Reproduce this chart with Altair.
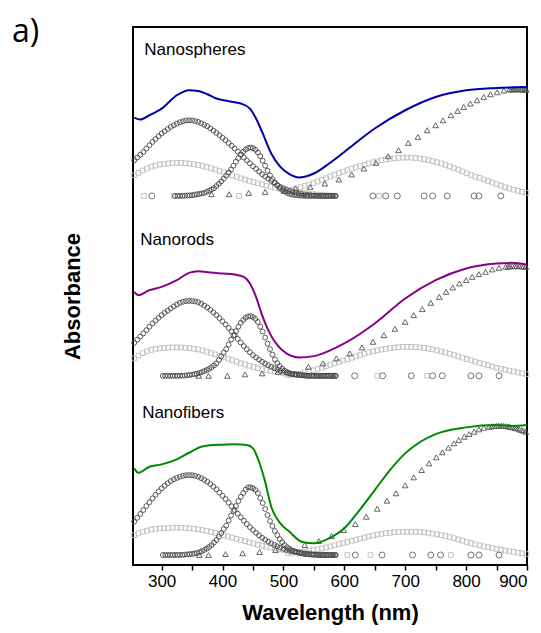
import altair as alt
import pandas as pd

# ---------------- data (wavelength in nm, absorbance offset-stacked, a.u.) ----------------
# Measured spectra
ns_line_nm = [255, 265, 280, 300, 325, 345, 360, 375, 390, 410, 430, 445, 455, 465, 480, 495, 510, 525, 550, 575, 600, 650, 700, 750, 800, 850, 900]
ns_line_ab = [4.477, 4.457, 4.50, 4.567, 4.70, 4.75, 4.743, 4.71, 4.667, 4.64, 4.617, 4.567, 4.467, 4.333, 4.117, 3.983, 3.91, 3.877, 3.917, 4.017, 4.133, 4.367, 4.55, 4.683, 4.75, 4.773, 4.783]
nr_line_nm = [255, 262, 280, 300, 325, 345, 360, 380, 400, 420, 435, 445, 455, 465, 475, 490, 505, 525, 550, 575, 600, 650, 700, 750, 800, 850, 875, 900]
nr_line_ab = [2.733, 2.70, 2.75, 2.783, 2.85, 2.923, 2.94, 2.927, 2.917, 2.907, 2.883, 2.817, 2.683, 2.50, 2.35, 2.20, 2.117, 2.077, 2.09, 2.143, 2.217, 2.417, 2.667, 2.85, 2.967, 3.017, 3.023, 3.007]
nf_line_nm = [255, 262, 280, 300, 325, 345, 365, 385, 400, 420, 440, 450, 460, 470, 480, 495, 510, 530, 550, 575, 600, 625, 650, 675, 700, 725, 750, 800, 850, 875, 900]
nf_line_ab = [0.967, 0.923, 0.983, 1.007, 1.057, 1.123, 1.183, 1.20, 1.203, 1.207, 1.20, 1.167, 1.033, 0.833, 0.583, 0.417, 0.333, 0.233, 0.217, 0.267, 0.367, 0.55, 0.75, 0.95, 1.117, 1.233, 1.31, 1.377, 1.40, 1.39, 1.40]

# Component A (dark circles, ~345 nm), sampled every 5 nm
compA_nm = list(range(255, 590, 5))
ns_compA = [4.05, 4.077, 4.105, 4.133, 4.167, 4.20, 4.233, 4.262, 4.29, 4.317, 4.34, 4.362, 4.383, 4.40, 4.416, 4.43, 4.44, 4.447, 4.45, 4.448,
            4.442, 4.433, 4.42, 4.405, 4.39, 4.368, 4.346, 4.323, 4.30, 4.275, 4.25, 4.222, 4.195, 4.167, 4.137, 4.107, 4.077, 4.048, 4.019, 3.99,
            3.963, 3.936, 3.91, 3.887, 3.865, 3.843, 3.823, 3.803, 3.783, 3.77, 3.756, 3.743, 3.734, 3.725, 3.717, 3.712, 3.707, 3.703, 3.70, 3.697,
            3.695, 3.693, 3.693, 3.693, 3.693, 3.693, 3.693]
nr_compA = [2.223, 2.255, 2.286, 2.317, 2.35, 2.384, 2.417, 2.445, 2.473, 2.50, 2.523, 2.545, 2.567, 2.587, 2.606, 2.623, 2.634, 2.64, 2.643, 2.641,
            2.637, 2.63, 2.614, 2.596, 2.577, 2.553, 2.527, 2.50, 2.47, 2.438, 2.407, 2.372, 2.336, 2.30, 2.263, 2.226, 2.19, 2.159, 2.129, 2.10,
            2.077, 2.055, 2.033, 2.016, 1.999, 1.983, 1.969, 1.956, 1.943, 1.934, 1.925, 1.917, 1.912, 1.907, 1.903, 1.899, 1.896, 1.893, 1.893, 1.893,
            1.893, 1.893, 1.893, 1.893, 1.893, 1.893, 1.893]
nf_compA = [0.433, 0.472, 0.511, 0.55, 0.59, 0.628, 0.667, 0.702, 0.735, 0.767, 0.793, 0.818, 0.84, 0.857, 0.871, 0.883, 0.892, 0.898, 0.90, 0.898,
            0.892, 0.883, 0.868, 0.852, 0.833, 0.81, 0.784, 0.757, 0.725, 0.693, 0.66, 0.624, 0.587, 0.55, 0.513, 0.478, 0.443, 0.41, 0.379, 0.35,
            0.322, 0.296, 0.273, 0.253, 0.234, 0.217, 0.201, 0.187, 0.173, 0.162, 0.152, 0.143, 0.136, 0.129, 0.123, 0.118, 0.114, 0.11, 0.107, 0.104,
            0.102, 0.10, 0.10, 0.10, 0.10, 0.10, 0.10]

# Component B (dark circles, ~443 nm), sampled every 4 nm
ns_compB_nm = list(range(322, 590, 4))
ns_compB = [3.693, 3.693, 3.693, 3.694, 3.695, 3.697, 3.698, 3.70, 3.704, 3.709, 3.713, 3.718, 3.723, 3.733, 3.745, 3.758, 3.77, 3.792, 3.815, 3.838,
            3.865, 3.895, 3.927, 3.958, 3.995, 4.035, 4.072, 4.107, 4.135, 4.157, 4.172, 4.177, 4.171, 4.155, 4.128, 4.09, 4.045, 3.995, 3.945, 3.898,
            3.86, 3.827, 3.797, 3.772, 3.753, 3.737, 3.724, 3.714, 3.707, 3.702, 3.699, 3.697, 3.695, 3.694, 3.693,
            3.693, 3.693, 3.693, 3.693, 3.693, 3.693, 3.693, 3.693, 3.693, 3.693, 3.693, 3.693]
compB_nm = list(range(302, 590, 4))
nr_compB = [1.893, 1.893, 1.893, 1.893, 1.893, 1.893, 1.893, 1.894, 1.895, 1.896, 1.898, 1.901, 1.905, 1.909, 1.914, 1.921, 1.93, 1.94, 1.95, 1.963,
            1.979, 1.997, 2.017, 2.05, 2.088, 2.125, 2.16, 2.205, 2.255, 2.297, 2.34, 2.385, 2.423, 2.452, 2.474, 2.488, 2.49, 2.481, 2.463, 2.432,
            2.385, 2.335, 2.275, 2.215, 2.16, 2.105, 2.057, 2.02, 1.99, 1.965, 1.945, 1.929, 1.918, 1.911, 1.907, 1.904, 1.901, 1.898, 1.896, 1.894,
            1.893, 1.893, 1.893, 1.893, 1.893, 1.893, 1.893, 1.893, 1.893, 1.893, 1.893, 1.893]
nf_compB = [0.10, 0.10, 0.10, 0.10, 0.10, 0.10, 0.10, 0.101, 0.102, 0.104, 0.106, 0.108, 0.111, 0.115, 0.12, 0.127, 0.138, 0.15, 0.164, 0.18,
            0.20, 0.224, 0.25, 0.283, 0.32, 0.36, 0.395, 0.445, 0.495, 0.54, 0.59, 0.64, 0.683, 0.72, 0.755, 0.777, 0.778, 0.767, 0.75, 0.72,
            0.67, 0.62, 0.56, 0.50, 0.44, 0.39, 0.34, 0.298, 0.26, 0.228, 0.20, 0.178, 0.162, 0.148, 0.137, 0.128, 0.121, 0.116, 0.111, 0.108,
            0.106, 0.104, 0.103, 0.102, 0.101, 0.10, 0.10, 0.10, 0.10, 0.10, 0.10, 0.10]

# Component C (light squares, ~320 nm), sampled every 7 nm
compC_nm = list(range(255, 590, 7))
ns_compC = [3.90, 3.924, 3.947, 3.967, 3.985, 3.997, 4.007, 4.013, 4.018, 4.022, 4.023, 4.022, 4.02, 4.016, 4.009, 4.003, 3.994, 3.982, 3.971, 3.958,
            3.943, 3.929, 3.914, 3.899, 3.884, 3.869, 3.856, 3.843, 3.831, 3.82, 3.808, 3.796, 3.785, 3.775, 3.766, 3.757, 3.749, 3.74, 3.732, 3.726,
            3.721, 3.716, 3.711, 3.706, 3.702, 3.699, 3.697, 3.695]
nr_compC = [2.067, 2.095, 2.12, 2.138, 2.153, 2.162, 2.168, 2.172, 2.175, 2.177, 2.177, 2.176, 2.173, 2.169, 2.163, 2.157, 2.147, 2.134, 2.121, 2.107,
            2.093, 2.079, 2.064, 2.049, 2.034, 2.02, 2.006, 1.993, 1.981, 1.97, 1.96, 1.951, 1.941, 1.933, 1.925, 1.917, 1.913, 1.91, 1.907, 1.903,
            1.90, 1.897, 1.895, 1.894, 1.893, 1.893, 1.893, 1.893]
nf_compC = [0.30, 0.316, 0.331, 0.344, 0.354, 0.361, 0.366, 0.368, 0.37, 0.373, 0.373, 0.372, 0.37, 0.366, 0.362, 0.357, 0.349, 0.341, 0.332, 0.321,
            0.309, 0.297, 0.285, 0.274, 0.262, 0.25, 0.238, 0.226, 0.215, 0.203, 0.193, 0.184, 0.174, 0.166, 0.158, 0.15, 0.143, 0.136, 0.129, 0.124,
            0.12, 0.116, 0.111, 0.106, 0.103, 0.101, 0.10, 0.10]

# Component D (light squares, ~700 nm), sampled every 7 nm
compD_nm = list(range(507, 901, 7))
ns_compD = [3.745, 3.756, 3.768, 3.78, 3.793, 3.807, 3.821, 3.837, 3.854, 3.871, 3.888, 3.904, 3.92, 3.935, 3.95, 3.965, 3.979, 3.992, 4.005, 4.017,
            4.029, 4.039, 4.049, 4.057, 4.063, 4.069, 4.074, 4.076, 4.077, 4.076, 4.072, 4.067, 4.06, 4.052, 4.041, 4.03, 4.017, 4.003, 3.988, 3.972,
            3.955, 3.938, 3.92, 3.902, 3.884, 3.873, 3.858, 3.842, 3.826, 3.81, 3.795, 3.781, 3.767, 3.755, 3.744, 3.733, 3.723]
nr_compD = [1.90, 1.905, 1.91, 1.915, 1.925, 1.937, 1.948, 1.961, 1.975, 1.99, 2.004, 2.018, 2.032, 2.046, 2.06, 2.074, 2.088, 2.102, 2.115, 2.127,
            2.139, 2.148, 2.156, 2.163, 2.17, 2.175, 2.179, 2.182, 2.183, 2.182, 2.18, 2.177, 2.172, 2.165, 2.157, 2.148, 2.137, 2.125, 2.113, 2.101,
            2.088, 2.075, 2.061, 2.048, 2.035, 2.022, 2.01, 1.998, 1.985, 1.973, 1.963, 1.954, 1.945, 1.936, 1.927, 1.918, 1.91]
nf_compD = [0.118, 0.122, 0.127, 0.132, 0.137, 0.143, 0.149, 0.157, 0.166, 0.176, 0.186, 0.197, 0.209, 0.22, 0.231, 0.242, 0.253, 0.264, 0.275, 0.286,
            0.296, 0.304, 0.311, 0.318, 0.323, 0.327, 0.33, 0.332, 0.333, 0.333, 0.332, 0.33, 0.327, 0.321, 0.314, 0.307, 0.299, 0.29, 0.28, 0.269,
            0.256, 0.244, 0.231, 0.219, 0.208, 0.197, 0.187, 0.178, 0.169, 0.16, 0.152, 0.144, 0.137, 0.131, 0.124, 0.117, 0.11]

# Component E (triangles, NIR band)
ns_compE_nm = [382, 411, 443, 470, 501, 520, 544, 568, 591, 612, 632, 652, 672, 689, 705, 721, 736, 750, 762, 775, 786, 796, 807, 818, 829, 840, 851, 862, 871, 879, 887, 892, 897,
               874, 877, 881, 884, 890, 895, 899]
ns_compE = [3.71, 3.71, 3.723, 3.733, 3.743, 3.767, 3.783, 3.817, 3.857, 3.907, 3.967, 4.023, 4.09, 4.15, 4.223, 4.283, 4.35, 4.40, 4.45, 4.50, 4.543, 4.583, 4.617, 4.65, 4.683, 4.71, 4.73, 4.747, 4.757, 4.76, 4.76, 4.757, 4.755,
            4.758, 4.759, 4.76, 4.76, 4.76, 4.757, 4.755]
nr_compE_nm = [361, 377, 408, 437, 465, 491, 541, 565, 587, 609, 629, 647, 665, 683, 700, 714, 728, 742, 756, 767, 778, 789, 800, 810, 821, 832, 843, 854, 865, 876, 887, 898,
               869, 872, 880, 883, 891, 894]
nr_compE = [1.893, 1.893, 1.893, 1.907, 1.917, 1.933, 1.983, 2.017, 2.067, 2.117, 2.177, 2.233, 2.30, 2.363, 2.433, 2.50, 2.56, 2.623, 2.683, 2.733, 2.777, 2.817, 2.85, 2.883, 2.91, 2.933, 2.957, 2.973, 2.983, 2.99, 2.99, 2.983,
            2.986, 2.988, 2.99, 2.99, 2.988, 2.986]
nf_compE_nm = [362, 377, 405, 433, 461, 487, 535, 558, 579, 599, 618, 636, 654, 670, 685, 700, 714, 727, 739, 751, 761, 771, 780, 788, 797, 805, 813, 821, 829, 838, 846, 854, 865, 876, 887, 898,
               842, 850, 858, 861, 869, 872, 880, 883, 891, 894]
nf_compE = [0.10, 0.10, 0.11, 0.117, 0.13, 0.15, 0.20, 0.24, 0.29, 0.35, 0.41, 0.483, 0.563, 0.643, 0.717, 0.797, 0.877, 0.95, 1.017, 1.077, 1.127, 1.173, 1.217, 1.25, 1.283, 1.31, 1.333, 1.357, 1.373, 1.383, 1.39, 1.393, 1.39, 1.377, 1.357, 1.333,
            1.388, 1.392, 1.393, 1.392, 1.386, 1.383, 1.372, 1.367, 1.35, 1.345]

# Baseline residual points
ns_base = 3.693
nr_base = 1.893
nf_base = 0.10
ns_resid_circ_nm = [284, 647, 668, 687, 731, 745, 769, 813, 821, 857]
ns_resid_sq_nm = [271, 320, 427, 657]
nr_resid_circ_nm = [617, 663, 710, 745, 761, 808, 821, 854]
nr_resid_sq_nm = [654, 736]
nf_resid_circ_nm = [618, 662, 712, 742, 758, 808, 821, 854]
nf_resid_sq_nm = [605, 643, 775]

panel_names = ["Nanospheres", "Nanorods", "Nanofibers"]
panel_label_nm = [271.5, 265, 268]
panel_label_ab = [5.10, 3.20, 1.467]
line_colors = ["#0000a8", "#880088", "#008800"]

# ---------------- build tables ----------------
def tbl(nm, ab):
    assert len(nm) == len(ab), (len(nm), len(ab))
    return pd.DataFrame({"nm": nm, "ab": ab})

dark_circ = pd.concat([
    tbl(compA_nm, ns_compA), tbl(ns_compB_nm, ns_compB),
    tbl(compA_nm, nr_compA), tbl(compB_nm, nr_compB),
    tbl(compA_nm, nf_compA), tbl(compB_nm, nf_compB),
], ignore_index=True)
light_sq = pd.concat([
    tbl(compC_nm, ns_compC), tbl(compD_nm, ns_compD),
    tbl(compC_nm, nr_compC), tbl(compD_nm, nr_compD),
    tbl(compC_nm, nf_compC), tbl(compD_nm, nf_compD),
    tbl(ns_resid_sq_nm, [ns_base] * len(ns_resid_sq_nm)),
    tbl(nr_resid_sq_nm, [nr_base] * len(nr_resid_sq_nm)),
    tbl(nf_resid_sq_nm, [nf_base] * len(nf_resid_sq_nm)),
], ignore_index=True)
tri = pd.concat([
    tbl(ns_compE_nm, ns_compE), tbl(nr_compE_nm, nr_compE), tbl(nf_compE_nm, nf_compE),
], ignore_index=True)
resid_circ = pd.concat([
    tbl(ns_resid_circ_nm, [ns_base] * len(ns_resid_circ_nm)),
    tbl(nr_resid_circ_nm, [nr_base] * len(nr_resid_circ_nm)),
    tbl(nf_resid_circ_nm, [nf_base] * len(nf_resid_circ_nm)),
], ignore_index=True)
labels_df = pd.DataFrame({"nm": panel_label_nm, "ab": panel_label_ab, "name": panel_names})

FONT = "Liberation Sans"
x_enc = alt.X(
    "nm:Q",
    scale=alt.Scale(domain=[253, 900], nice=False, zero=False),
    axis=alt.Axis(
        title="Wavelength (nm)",
        values=list(range(300, 901, 50)),
        labelExpr="datum.value % 100 == 0 ? datum.label : ''",
        grid=False, domain=False,
        tickColor="black", tickSize=5, tickWidth=1.5,
        labelFont=FONT, labelFontSize=17, labelColor="black", labelPadding=3,
        titleFont=FONT, titleFontSize=22, titleFontWeight="bold", titleColor="black",
        titlePadding=13,
    ),
)
y_enc = alt.Y(
    "ab:Q",
    scale=alt.Scale(domain=[0, 5.383], nice=False, zero=False),
    axis=alt.Axis(
        title="Absorbance", labels=False, ticks=False, domain=False, grid=False,
        titleFont=FONT, titleFontSize=22, titleFontWeight="bold", titleColor="black",
        titlePadding=49,
    ),
)

layers = []
layers.append(alt.Chart(light_sq).mark_point(shape="square", filled=False, size=22, strokeWidth=0.9, color="#bdbdbd", opacity=1).encode(x=x_enc, y=y_enc))
layers.append(alt.Chart(resid_circ).mark_point(shape="circle", filled=False, size=36, strokeWidth=0.9, color="#666666", opacity=1).encode(x=x_enc, y=y_enc))
layers.append(alt.Chart(tri).mark_point(shape="triangle-up", filled=False, size=32, strokeWidth=0.9, color="#555555", opacity=1).encode(x=x_enc, y=y_enc))
layers.append(alt.Chart(dark_circ).mark_point(shape="circle", filled=False, size=24, strokeWidth=0.9, color="#4a4a4a", opacity=1).encode(x=x_enc, y=y_enc))
for nm, ab, col in [(ns_line_nm, ns_line_ab, line_colors[0]), (nr_line_nm, nr_line_ab, line_colors[1]), (nf_line_nm, nf_line_ab, line_colors[2])]:
    layers.append(alt.Chart(tbl(nm, ab)).mark_line(color=col, strokeWidth=2, interpolate="monotone").encode(x=x_enc, y=y_enc))
layers.append(alt.Chart(labels_df).mark_text(align="left", baseline="alphabetic", font=FONT, fontSize=17, color="black").encode(x=x_enc, y=y_enc, text="name:N"))
layers.append(alt.Chart(pd.DataFrame({"t": ["a)"]})).mark_text(align="left", baseline="alphabetic", font="Open Sans", fontSize=32, color="black").encode(x=alt.value(-121), y=alt.value(15), text="t:N"))

chart = alt.layer(*layers).properties(
    width=394, height=538,
    autosize=alt.AutoSizeParams(type="none"),
    padding={"left": 133, "top": 27, "right": 14, "bottom": 68},
).configure_view(stroke="black", strokeWidth=2)

chart.save("out.html", embed_options={"renderer": "svg", "actions": False})
